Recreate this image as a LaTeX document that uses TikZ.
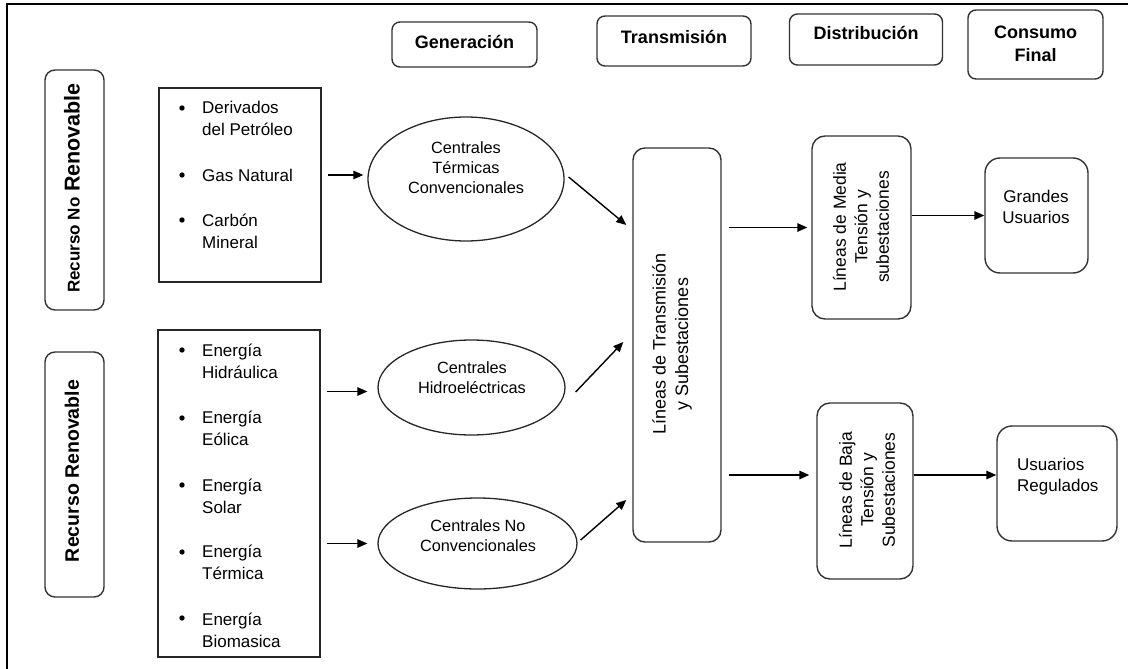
\documentclass[tikz,border=0pt]{standalone}
\usepackage{fontspec}
\setmainfont{Liberation Sans}
\usetikzlibrary{shapes.geometric,arrows.meta}

\tikzset{
  hdrbox/.style={draw=black!80, line width=1.4pt, rounded corners=8pt, inner sep=0pt},
  rbox/.style={draw=black!80, line width=1.4pt, rounded corners=13pt, inner sep=0pt},
  sqbox/.style={draw=black!85, line width=1.3pt, inner sep=0pt},
  ell/.style={ellipse, draw=black!85, line width=1.3pt, inner sep=0pt},
  arr/.style={-{Triangle[length=10pt,width=8.5pt]}, line width=1.4pt},
  hdr/.style={font=\fontsize{18}{23}\selectfont\bfseries, align=center, inner sep=0pt},
  side/.style={font=\fontsize{19.5}{24}\selectfont\bfseries, rotate=90, inner sep=0pt},
  item/.style={font=\fontsize{17}{22}\selectfont, align=left, anchor=west, inner sep=0pt},
  etxt/.style={font=\fontsize{16.3}{20}\selectfont, align=center, inner sep=0pt},
  vtxt/.style={font=\fontsize{17.5}{21.5}\selectfont, align=center, rotate=90, inner sep=0pt},
  utxt/.style={font=\fontsize{17}{21}\selectfont, align=center, inner sep=0pt},
  dot/.style={fill=black},
}

\begin{document}
\begin{tikzpicture}[x=1pt, y=-1pt]
\useasboundingbox (0,0) rectangle (1128,669);

% frame
\draw[line width=2pt] (1128,4) -- (7,4) -- (7,669);

% column headers
\node[hdrbox, minimum width=145pt, minimum height=45pt] (gen) at (464.5,44.5) {};
\node[hdr] (genT) at (464.5,42) {Generación};
\node[hdrbox, minimum width=154pt, minimum height=50pt] (trn) at (674,41) {};
\node[hdr] (trnT) at (674,37) {Transmisión};
\node[hdrbox, minimum width=153pt, minimum height=51pt] (dst) at (866,39.5) {};
\node[hdr] (dstT) at (866,33) {Distribución};
\node[hdrbox, minimum width=135pt, minimum height=69pt] (cns) at (1035.5,44.5) {};
\node[hdr] (cnsT) at (1035.5,43.5) {Consumo\\Final};

% resource labels
\node[hdrbox, rounded corners=10pt, minimum width=59pt, minimum height=240pt] (rnr) at (74.5,190) {};
\node[side] (rnrT) at (72,188) {{\fontsize{17}{22}\selectfont Recurso No} {\fontsize{21.5}{24}\selectfont Renovable}};
\node[hdrbox, rounded corners=10pt, minimum width=59pt, minimum height=245pt] (rr) at (74.5,474.5) {};
\node[side] (rrT) at (72,471) {Recurso Renovable};

% resource lists
\node[sqbox, minimum width=162pt, minimum height=194pt] (b1) at (240,185) {};
\node[item] (d1) at (202,118.5) {Derivados\\del Petróleo};
\node[item] (d2) at (202,175) {Gas Natural};
\node[item] (d3) at (202,231.5) {Carbón\\Mineral};
\foreach \yy in {108,175,220} \fill[dot] (182,\yy) circle (2.7pt);

\node[sqbox, minimum width=162pt, minimum height=327pt] (b2) at (239,493.5) {};
\node[item] (r1) at (202,361) {Energía\\Hidráulica};
\node[item] (r2) at (202,428) {Energía\\Eólica};
\node[item] (r3) at (202,496) {Energía\\Solar};
\node[item] (r4) at (202,562.5) {Energía\\Térmica};
\node[item] (r5) at (202,630) {Energía\\Biomasica};
\foreach \yy in {350,418,485,552,618} \fill[dot] (182,\yy) circle (2.7pt);

% power plants
\node[ell, minimum width=196pt, minimum height=124pt] (e1) at (466,179) {};
\node[etxt] (e1T) at (466,168) {Centrales\\Térmicas\\Convencionales};
\node[ell, minimum width=187pt, minimum height=95pt] (e2) at (471.5,387.5) {};
\node[etxt] (e2T) at (472,378) {Centrales\\Hidroeléctricas};
\node[ell, minimum width=199pt, minimum height=91pt] (e3) at (477.5,543.5) {};
\node[etxt] (e3T) at (478,536) {Centrales No\\Convencionales};

% transmission
\node[rbox, rounded corners=12pt, minimum width=88pt, minimum height=394pt] (trans) at (677,345) {};
\node[vtxt, font=\fontsize{18}{22.5}\selectfont] (transT) at (672,344) {Líneas de Transmisión\\y Subestaciones};

% distribution
\node[rbox, minimum width=99pt, minimum height=183pt] (media) at (861.5,227.5) {};
\node[vtxt] (mediaT) at (861,227) {Líneas de Media\\Tensión y\\subestaciones};
\node[rbox, minimum width=96pt, minimum height=176pt] (baja) at (865,491) {};
\node[vtxt] (bajaT) at (867,490) {Líneas de Baja\\Tensión y\\Subestaciones};

% final consumers
\node[rbox, rounded corners=15pt, minimum width=103pt, minimum height=115pt] (gran) at (1036.5,215.5) {};
\node[utxt] (granT) at (1036,207) {Grandes\\Usuarios};
\node[rbox, rounded corners=15pt, minimum width=120pt, minimum height=115pt] (usu) at (1057,483.5) {};
\node[utxt, align=left, anchor=west] (usuT) at (1017,477) {Usuarios\\Regulados};

% connector end points
\coordinate (t1) at ([xshift=-6pt,yshift=120pt]trans.west);
\coordinate (t2) at ([xshift=-9pt,yshift=3pt]trans.west);
\coordinate (t3) at ([xshift=-6pt,yshift=-155pt]trans.west);
\coordinate (bj) at ([yshift=16pt]baja.west);

% resources -> plants
\draw[arr, shorten <=6pt, shorten >=4pt] (b1.east |- d2) -- (d2 -| e1.west);
\draw[arr, shorten <=6pt, shorten >=10pt] ([yshift=-4pt]b2.east |- e2.west) -- ([yshift=-4pt]e2.west);
\draw[arr, shorten <=6pt, shorten >=10pt] (b2.east |- e3.west) -- (e3.west);

% plants -> transmission
\draw[arr] ([xshift=4pt,yshift=2pt]e1.east) -- (t1);
\draw[arr] ([xshift=10pt,yshift=-4.5pt]e2.east) -- (t2);
\draw[arr] ([xshift=3pt,yshift=3.5pt]e3.east) -- (t3);

% transmission -> distribution
\draw[arr, shorten <=7pt, shorten >=4pt] (trans.east |- media.west) -- (media.west);
\draw[arr, shorten <=7pt, shorten >=7pt] (trans.east |- bj) -- (bj);

% distribution -> consumers
\draw[arr] (media.east |- gran.west) -- (gran.west);
\draw[arr] (baja.east |- bj) -- (bj -| usu.west);
\end{tikzpicture}
\end{document}
